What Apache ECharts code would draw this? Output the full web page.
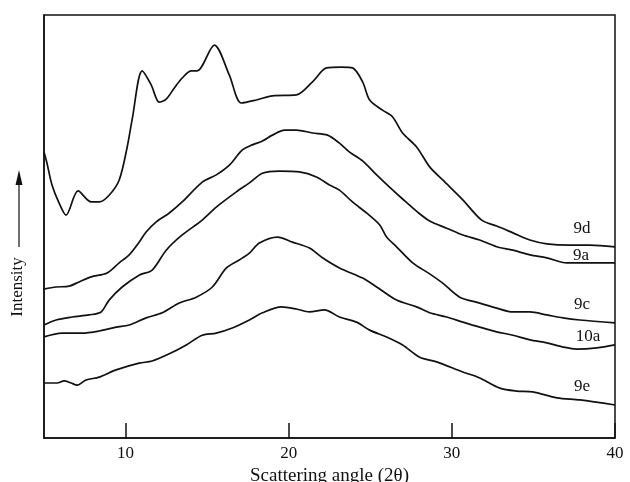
<!DOCTYPE html>
<html>
<head>
<meta charset="utf-8">
<script src="https://cdn.jsdelivr.net/npm/echarts@6/dist/echarts.min.js"></script>
<style>
  html, body { margin: 0; padding: 0; background: #fff; }
  #chart { width: 630px; height: 482px; }
</style>
</head>
<body>
<div id="chart"></div>
<script>
// 散射角 (2θ) 与强度，逐条曲线读图所得
var xTicks = [10, 20, 30, 40];

var curve9d = [
  [5.0, 67.6], [5.18, 65.0], [5.49, 59.8], [5.92, 55.6], [6.35, 52.7], [7.09, 58.4],
  [7.89, 55.8], [8.38, 55.8], [8.99, 57.4], [9.61, 61.0], [10.1, 68.8], [10.4, 75.2],
  [11.02, 86.8], [11.57, 83.5], [12.06, 79.4], [12.49, 80.1], [12.98, 82.7], [13.47, 85.1],
  [14.03, 86.8], [14.39, 86.8], [15.44, 92.9], [16.36, 85.8], [17.1, 79.2], [18.02, 79.9],
  [19.0, 80.9], [20.47, 81.1], [21.46, 84.2], [22.32, 87.5], [23.24, 87.7], [23.91, 87.5],
  [24.53, 84.2], [24.96, 79.9], [25.75, 77.5], [26.37, 75.9], [26.98, 72.1], [27.84, 68.8],
  [28.64, 64.1], [29.44, 61.0], [30.67, 56.3], [31.83, 51.5], [32.75, 50.1], [33.74, 48.5],
  [34.78, 46.8], [35.82, 45.9], [37.24, 45.6], [38.46, 45.6], [40.0, 45.2]
];
var curve9a = [
  [5.0, 35.2], [5.74, 35.7], [6.54, 35.9], [7.15, 36.9], [7.89, 38.1], [8.87, 39.0],
  [9.61, 41.4], [10.22, 43.3], [10.83, 46.3], [11.26, 48.7], [11.88, 51.1], [12.68, 53.2],
  [13.47, 55.8], [14.7, 60.5], [15.56, 62.2], [16.36, 64.5], [17.16, 68.1], [17.77, 69.3],
  [18.39, 70.2], [19.0, 71.6], [19.74, 72.8], [20.47, 72.8], [21.46, 72.1], [22.38, 71.6],
  [23.11, 69.7], [23.73, 67.6], [24.53, 65.5], [25.39, 62.2], [26.18, 59.3], [26.98, 56.5],
  [27.9, 53.4], [28.64, 51.3], [29.68, 49.6], [30.67, 48.0], [31.71, 46.8], [32.75, 45.2],
  [33.74, 44.4], [34.78, 43.3], [35.82, 42.6], [37.05, 41.4], [38.46, 41.4], [40.0, 41.4]
];
var curve9c = [
  [5.0, 26.7], [5.74, 27.9], [6.72, 28.6], [7.76, 29.1], [8.5, 29.8], [8.99, 32.6],
  [9.79, 35.7], [10.83, 38.5], [11.63, 39.7], [12.49, 44.4], [13.47, 48.0], [14.7, 51.5],
  [15.56, 54.6], [16.79, 58.2], [17.59, 60.3], [18.39, 62.6], [19.43, 63.1], [20.66, 62.9],
  [21.7, 61.7], [22.5, 59.8], [23.11, 58.6], [23.91, 55.8], [24.77, 53.2], [25.57, 50.4],
  [26.0, 47.5], [26.61, 45.2], [27.6, 41.4], [28.64, 38.8], [29.44, 36.6], [30.48, 33.3],
  [31.71, 31.9], [32.75, 30.7], [33.74, 29.8], [34.78, 29.8], [35.82, 29.1], [36.81, 28.4],
  [37.85, 27.9], [40.0, 27.2]
];
var curve10a = [
  [5.0, 23.9], [6.11, 24.8], [7.33, 24.8], [8.38, 25.3], [9.42, 26.2], [10.22, 26.7],
  [11.26, 28.4], [12.25, 29.6], [13.29, 31.9], [14.33, 33.3], [15.32, 35.7], [16.18, 40.2],
  [16.97, 42.1], [17.59, 43.7], [18.2, 46.1], [19.31, 47.5], [20.23, 46.3], [21.27, 44.9],
  [22.07, 42.6], [23.11, 40.2], [24.53, 37.8], [25.39, 35.7], [26.61, 32.6], [27.84, 31.0],
  [28.64, 29.6], [29.68, 28.6], [30.67, 27.4], [31.71, 26.2], [32.75, 25.1], [33.74, 24.3],
  [34.78, 23.2], [35.82, 22.5], [36.81, 21.5], [37.67, 21.0], [38.89, 21.3], [40.0, 22.0]
];
var curve9e = [
  [5.0, 13.0], [5.8, 13.0], [6.23, 13.5], [6.66, 13.0], [7.03, 12.5], [7.58, 13.7],
  [8.38, 14.4], [9.42, 16.1], [10.83, 17.7], [11.63, 18.2], [12.68, 19.9], [13.72, 22.0],
  [14.7, 24.3], [15.56, 24.8], [16.54, 26.0], [17.59, 27.9], [18.39, 29.6], [19.55, 31.0],
  [20.47, 30.5], [21.27, 29.8], [22.19, 30.3], [23.11, 28.6], [24.16, 27.4], [24.96, 25.5],
  [26.0, 23.9], [26.98, 22.0], [28.03, 19.1], [29.07, 18.0], [30.67, 15.6], [31.71, 14.2],
  [32.94, 11.8], [33.98, 11.1], [34.96, 10.9], [36.44, 9.5], [37.85, 9.0], [40.0, 7.8]
];

var seriesNames = ['9d', '9a', '9c', '10a', '9e'];
var seriesData = [curve9d, curve9a, curve9c, curve10a, curve9e];

var serif = '"Liberation Serif", "DejaVu Serif", serif';
var ink = '#111';

var series = seriesData.map(function (d, i) {
  return {
    name: seriesNames[i],
    type: 'line',
    data: d,
    symbol: 'none',
    smooth: 0.3,
    lineStyle: { color: ink, width: 1.7 },
    silent: true
  };
});

// 曲线右端的标签
var tags = [
  { text: '9d', x: 582, y: 229 },
  { text: '9a', x: 581, y: 256 },
  { text: '9c', x: 582, y: 305 },
  { text: '10a', x: 588, y: 337 },
  { text: '9e', x: 582, y: 387 }
];
var graphics = tags.map(function (t) {
  return {
    type: 'text', x: t.x, y: t.y,
    style: { text: t.text, font: '17px ' + serif, fill: ink, align: 'center', verticalAlign: 'middle' }
  };
});
// 纵轴标题 Intensity + 箭头
graphics.push({
  type: 'text', x: 18, y: 287, rotation: Math.PI / 2,
  style: { text: 'Intensity', font: '17px ' + serif, fill: ink, align: 'center', verticalAlign: 'middle' }
});
graphics.push({
  type: 'line', shape: { x1: 19, y1: 247, x2: 19, y2: 182 },
  style: { stroke: ink, lineWidth: 1.2 }
});
graphics.push({
  type: 'polygon', shape: { points: [[19, 170], [15.5, 185], [22.5, 185]] },
  style: { fill: ink }
});

var option = {
  animation: false,
  backgroundColor: '#fff',
  grid: {
    left: 44, right: 15, top: 15, bottom: 44,
    outerBoundsMode: 'none', containLabel: false,
    show: true, borderColor: ink, borderWidth: 1.5, backgroundColor: 'transparent'
  },
  xAxis: {
    type: 'value', min: 5, max: 40,
    name: 'Scattering angle (2θ)', nameLocation: 'middle', nameGap: 27,
    nameTextStyle: { fontFamily: serif, fontSize: 19, color: ink },
    axisLine: { show: true, lineStyle: { color: ink, width: 1.5 } },
    axisTick: { show: true, inside: true, length: 15, customValues: xTicks, lineStyle: { color: ink, width: 1.5 } },
    axisLabel: { customValues: xTicks, fontFamily: serif, fontSize: 17, color: ink, margin: 7 },
    splitLine: { show: false }
  },
  yAxis: {
    type: 'value', min: 0, max: 100,
    axisLine: { show: true, lineStyle: { color: ink, width: 1.5 } },
    axisTick: { show: false },
    axisLabel: { show: false },
    splitLine: { show: false }
  },
  series: series,
  graphic: graphics
};

var chartObj = echarts.init(document.getElementById('chart'));
chartObj.setOption(option);
</script>
</body>
</html>
